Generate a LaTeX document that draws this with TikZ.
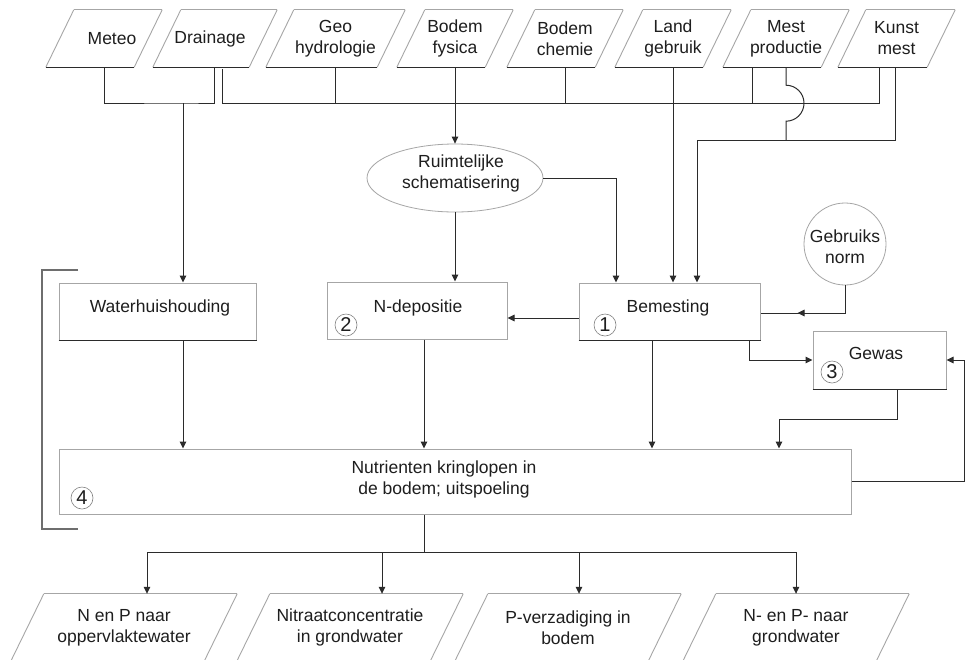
\documentclass[tikz,border=0pt]{standalone}
\usepackage{fontspec}
\setmainfont{Liberation Sans}
\usetikzlibrary{arrows.meta,shapes.geometric,decorations.markings}
\definecolor{lnc}{HTML}{2B2B2B}
\definecolor{bxc}{HTML}{A6A6A6}
\definecolor{txc}{HTML}{1E1E1E}
\definecolor{brc}{HTML}{6E6E6E}
\tikzset{
  ln/.style={draw=lnc, line width=1pt},
  arr/.style={ln, -{Triangle[length=7pt,width=6.5pt]}},
  box/.style={draw=bxc, line width=1pt, rectangle, inner sep=0pt},
  darkbottom/.style={draw=lnc, line width=1pt},
  lbl/.style={text=txc, font=\fontsize{17.5}{21}\selectfont, align=center, inner sep=0pt},
  num/.style={circle, draw=gray, line width=0.6pt, minimum size=22pt, inner sep=0pt, text=txc, font=\fontsize{20}{20}\selectfont},
  ptext/.style={lbl, draw=none, rectangle},
  pside/.style={draw=bxc, line width=0.9pt},
  pbot/.style={draw=lnc, line width=1pt},
  midarrow/.style={postaction={decorate}, decoration={markings, mark=at position #1 with {\arrow[color=lnc]{Triangle[length=7pt,width=6.5pt]}}}},
}
\newcommand\mkpara[7]{%
  \node[ptext, minimum width={(#3)-(#2)}, minimum height={(#5)-(#4)}] (#1) at ({((#2)+(#3))/2},{((#4)+(#5))/2}) {#7};
  \draw[pside] (#1.south west) -- ([xshift=#6pt]#1.north west);
  \draw[pside] ([xshift=#6pt]#1.north west) -- (#1.north east);
  \draw[pside] (#1.north east) -- ([xshift=-#6pt]#1.south east);
  \draw[pbot] ([xshift=-#6pt]#1.south east) -- (#1.south west);
}
\begin{document}
\begin{tikzpicture}[x=1pt,y=-1pt]
\fill[white] (0,0) rectangle (971,659);
\useasboundingbox (0,0) rectangle (971,659);

% top inputs
\mkpara{meteo}{46}{162}{10}{67}{28}{\hspace{16pt}Meteo}
\mkpara{drain}{153}{277}{10}{67}{28}{Drainage\hspace{10pt}}
\mkpara{geo}{266}{405}{10}{67}{28}{Geo\\hydrologie}
\mkpara{fys}{397}{513}{10}{67}{28}{Bodem\\fysica}
\mkpara{chem}{507}{623}{10}{67}{28}{Bodem\\chemie}
\mkpara{land}{615}{731}{10}{67}{28}{Land\\gebruik}
\mkpara{mest}{723}{849}{10}{67}{28}{Mest\\productie}
\mkpara{kunst}{838}{955}{10}{67}{28}{Kunst\\mest}

% bottom outputs
\mkpara{o1}{11}{237}{594}{661}{33}{N en P naar\\oppervlaktewater}
\mkpara{o2}{237}{463}{594}{661}{33}{Nitraatconcentratie\\in grondwater}
\mkpara{o3}{455}{681}{594}{661}{33}{P-verzadiging in\\bodem}
\mkpara{o4}{683}{909}{594}{661}{33}{N- en P- naar\\grondwater}

% ellipse and circle
\node[ellipse, draw=bxc, line width=0.8pt, minimum width=176pt, minimum height=68pt, inner sep=0pt] (ell) at (455,178) {};
\node[lbl] (ellT) at (461,173) {Ruimtelijke\\schematisering};
\node[circle, draw=bxc, line width=0.8pt, minimum size=82pt, inner sep=0pt] (norm) at (845,244) {};
\node[lbl] (normT) at (845,247) {Gebruiks\\norm};

% boxes
\node[box, minimum width=197pt, minimum height=57pt] (water) at (157.5,311.5) {};
\node[lbl] (waterT) at (160,308) {Waterhuishouding};
\draw[darkbottom] (water.south west) -- (water.south east);

\node[box, minimum width=180pt, minimum height=57pt] (ndep) at (417,310.5) {};
\node[lbl] (ndepT) at (418,308) {N-depositie};

\node[box, minimum width=181pt, minimum height=57pt] (bem) at (669.5,311.5) {};
\node[lbl] (bemT) at (668,308) {Bemesting};
\draw[darkbottom] (bem.south west) -- (bem.south east);

\node[box, minimum width=133pt, minimum height=58pt] (gewas) at (879.5,360) {};
\node[lbl] (gewasT) at (876,353) {Gewas};
\draw[darkbottom] (gewas.south west) -- (gewas.south east);

\node[box, minimum width=792pt, minimum height=65pt] (nut) at (455,481.5) {};
\node[lbl] (nutT) at (444,479) {Nutrienten kringlopen in\\de bodem; uitspoeling};

% number markers
\node[num] (n1) at (605,325) {1};
\node[num] (n2) at (346,325) {2};
\node[num] (n3) at (832,372) {3};
\node[num] (n4) at (82,498) {4};

% bracket
\draw[draw=brc, line width=1.3pt] (78,270) -- (42,270) -- (42,529) -- (78,529);

% helper coordinates
\coordinate (cA) at (183,103);
\coordinate (bL) at (222,103);
\coordinate (bR) at (879,103);
\coordinate (cK) at (697,140);
\coordinate (c616) at (616,0);
\coordinate (y318) at (0,318);
\coordinate (y313) at (0,313);
\coordinate (c749) at (749,0);
\coordinate (c652) at (652,0);
\coordinate (c424) at (424,0);
\coordinate (g1) at (897,419);
\coordinate (c779) at (779,0);
\coordinate (nd) at (424,552);
\coordinate (o1x) at (147,0);
\coordinate (o2x) at (382,0);
\coordinate (o3x) at (579,0);
\coordinate (o4x) at (796,0);

% Meteo + Drainage -> Waterhuishouding
\draw[ln] (meteo.south) |- (cA) -| ([xshift=-1pt]drain.south);
\draw[arr] (cA) -- (water.north -| cA);

% main bus
\draw[ln] ([yshift=-2pt]drain.south -| bL) -- (bL) -- (bR) -- (bR |- kunst.south);
\draw[ln] (geo.south) -- (geo.south |- bL);
\draw[ln] (chem.south) -- (chem.south |- bL);
\draw[ln] ([xshift=-34pt]mest.south) -- ++(0,36);
\draw[arr] (fys.south) -- (ell.north);
\draw[arr] (land.south) -- (land.south |- bem.north);

% Mest productie hop + Kunst mest -> Bemesting
\draw[ln] (mest.south) -- ++(0,18) arc[start angle=90, end angle=-90, radius=18pt] -- (mest.south |- cK);
\draw[arr] ([xshift=-1.5pt]kunst.south) -- ([xshift=-1.5pt]kunst.south |- cK) -- (cK) -- (bem.north -| cK);

% ellipse outputs
\draw[arr] (ell.east) -| (bem.north -| c616);
\draw[arr] (ell.south) -- (ndep.north -| ell.south);

% Bemesting connections
\draw[arr] (bem.west |- y318) -- (ndep.east |- y318);
\draw[ln, midarrow=0.67] (norm.south) |- (bem.east |- y313);
\draw[arr] (bem.south -| c749) |- (gewas.west);
\draw[arr] (bem.south -| c652) -- (nut.north -| c652);

% into Nutrienten
\draw[arr] (water.south -| cA) -- (nut.north -| cA);
\draw[arr] (ndep.south -| c424) -- (nut.north -| c424);
\draw[arr] (gewas.south -| g1) -- (g1) -| (nut.north -| c779);
\draw[arr] (nut.east) -- ++(113,0) |- (gewas.east);

% outputs
\draw[ln] (nut.south -| nd) -- (nd);
\draw[arr] (nd) -| (o1.north -| o1x);
\draw[arr] (nd) -| (o2.north -| o2x);
\draw[arr] (nd) -| (o3.north -| o3x);
\draw[arr] (nd) -| (o4.north -| o4x);
\end{tikzpicture}
\end{document}
